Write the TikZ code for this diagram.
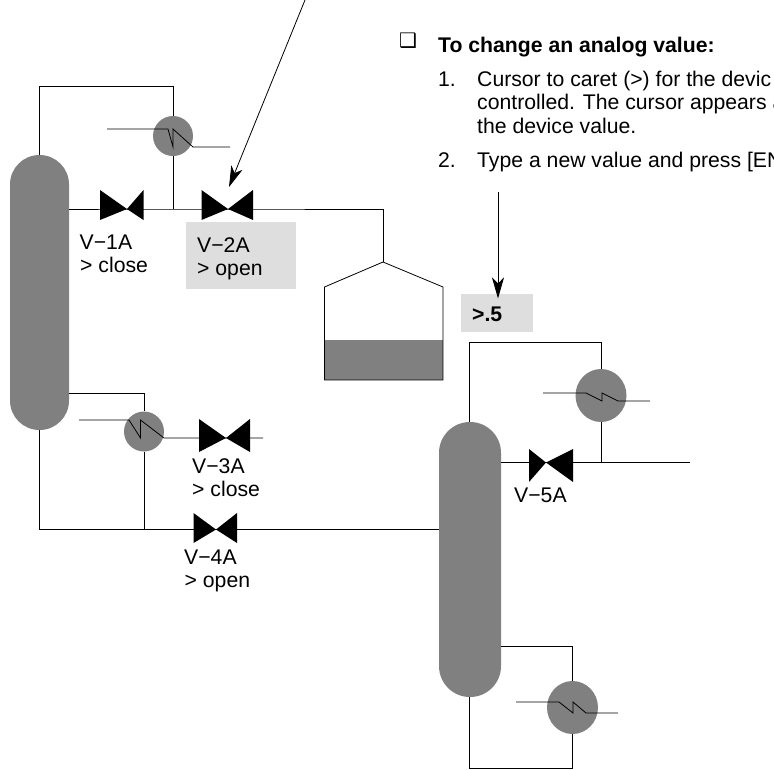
\documentclass[tikz,border=0pt]{standalone}
\usepackage{fontspec}
\setmainfont{Liberation Sans}
\newfontfamily\symfont{DejaVu Sans}
\usetikzlibrary{arrows.meta,shapes.geometric}
\definecolor{vessel}{HTML}{808080}
\definecolor{labelbg}{HTML}{DEDEDE}
\tikzset{
  pipe/.style={draw=black,line width=0.8pt,line join=miter},
  column/.style={fill=vessel,inner sep=0pt,rectangle},
  exch/.style={fill=vessel,inner sep=0pt,ellipse},
  txt/.style={anchor=base west,inner sep=0pt,font=\fontsize{21.2}{24}\selectfont},
  btxt/.style={txt,font=\fontsize{21.2}{24}\selectfont\bfseries},
  labelbox/.style={fill=labelbg,inner sep=0pt,rectangle},
  pointer/.style={draw=black,line width=0.8pt,-{Stealth[length=21pt,width=12pt,inset=6pt]}},
  valvebody/.style={fill=black}
}
% name, x left, x cross, x right, y top, y bottom, y cross
\newcommand{\valveat}[7]{%
  \coordinate (#1) at (#3,#7);
  \fill[valvebody] (#2,#5) -- (#2,#6) -- (#3,#7) -- (#4,#6) -- (#4,#5) -- (#3,#7) -- cycle;}
\begin{document}
\begin{tikzpicture}[x=1pt,y=-1pt]
\useasboundingbox (0,0) rectangle (774,769);
\clip (0,0) rectangle (774,769);
% label backgrounds
\node[labelbox,minimum width=110pt,minimum height=67pt] (boxa) at (241,255.5) {};
\node[labelbox,minimum width=72pt,minimum height=38pt] (boxb) at (497,313) {};

% vessels
\node[column,minimum width=59pt,minimum height=275pt,rounded corners=29.4pt] (col1) at (39.5,292.5) {};
\node[column,minimum width=62pt,minimum height=275pt,rounded corners=30.9pt] (col2) at (470,559.5) {};
\node[exch,minimum width=40pt,minimum height=40pt] (ex1) at (173,136) {};
\node[exch,minimum width=40pt,minimum height=40pt] (ex2) at (144,431.5) {};
\node[exch,minimum width=51pt,minimum height=53pt] (ex3) at (601,395.5) {};
\node[exch,minimum width=51pt,minimum height=53pt] (ex4) at (572.5,707.5) {};

% named points
\coordinate (tee1) at (173,209);
\coordinate (tank1) at (383,209);
\coordinate (apex) at (383,262);
\coordinate (tl) at (324.5,287);
\coordinate (tr) at (443,287);
\coordinate (bl) at (324.5,380);
\coordinate (br) at (443,380);
\coordinate (ll) at (324.5,340);
\coordinate (lr) at (443,340);

% tank
\fill[vessel] (ll) rectangle (br);
\draw[pipe] (apex) -- (tr) -- (br) -- (bl) -- (tl) -- cycle;

% valves
\valveat{v1}{100}{127}{143.5}{190}{220}{209}
\valveat{v2}{201.5}{228}{253}{190}{220}{209}
\valveat{v3}{199}{226}{250}{419}{452}{438}
\valveat{v4}{193.5}{216}{237}{513}{543}{529.5}
\valveat{v5}{529}{546}{573}{449}{482}{462.5}

% column 1 piping
\draw[pipe] (col1.north) |- (173,86) -- (ex1.north);
\draw[pipe] (ex1.south) -- (tee1);
\draw[pipe] (col1.east |- v1) -- (v1) -- (tee1) -- (v2) -- (tank1) -- (apex);
\draw[pipe] (107,129) -- (168,129) -- (173,147) -- (173,129) -- (193,147) -- (230,147);
\draw[pipe] (69,393) -| (ex2.north);
\draw[pipe] (ex2.south) -- (144,529.5);
\draw[pipe] (col1.south) |- (v4) -- (col2.west |- v4);
\draw[pipe] (79,420) -- (129,420) -- (140.5,438) -- (140.5,420) -- (164,438) -- (v3) -- (263,438);

% column 2 piping
\coordinate (c2top) at (469,422);
\draw[pipe] (c2top) -- (469,342) -| (ex3.north);
\draw[pipe] (ex3.south) -- (601,462.5);
\draw[pipe] (col2.east |- v5) -- (v5) -- (690,462.5);
\draw[pipe] (543,393) -- (586,393) -- (602,401) -- (602,393) -- (618,401) -- (650,401);
\draw[pipe] (501,646) -| (ex4.north);
\draw[pipe] (ex4.south) -- (572.5,768.5);
\draw[pipe] (469,697) -- (469,768.5) -- (572.5,768.5);
\draw[pipe] (516,702) -- (559,702) -- (573,713) -- (573,702) -- (586,713) -- (618,713);

% pointers
\coordinate (p1s) at (305,0);
\coordinate (p1e) at (229,187);
\coordinate (p2s) at (498,192);
\coordinate (p2e) at (498,298.5);
\draw[pointer] (p1s) -- (p1e);
\draw[pointer] (p2s) -- (p2e);

% diagram labels
\node[txt] (l1a) at (79.5,249) {V−1A};
\node[txt] (l1b) at (80,272.5) {> close};
\node[txt] (l2a) at (197,252) {V−2A};
\node[txt] (l2b) at (197,275) {> open};
\node[txt] (l3a) at (192,473) {V−3A};
\node[txt] (l3b) at (192,496) {> close};
\node[txt] (l4a) at (184,564) {V−4A};
\node[txt] (l4b) at (184.5,587) {> open};
\node[txt] (l5a) at (514,502) {V−5A};
\node[btxt] (l6) at (472,321) {>.5};

% instructions
\node[txt,font=\fontsize{20}{24}\symfont] (chk) at (399,47) {❑};
\node[btxt] (h1) at (438,52) {To change an analog value:};
\node[txt] (n1) at (438,86) {1.};
\node[txt] (s1) at (477,86) {Cursor to caret (>) for the devic};
\node[txt] (s2) at (477,109) {controlled. The cursor appears a};
\node[txt] (s3) at (477,133) {the device value.};
\node[txt] (n2) at (438,167) {2.};
\node[txt] (s4) at (477,167) {Type a new value and press [EN};
\end{tikzpicture}
\end{document}
